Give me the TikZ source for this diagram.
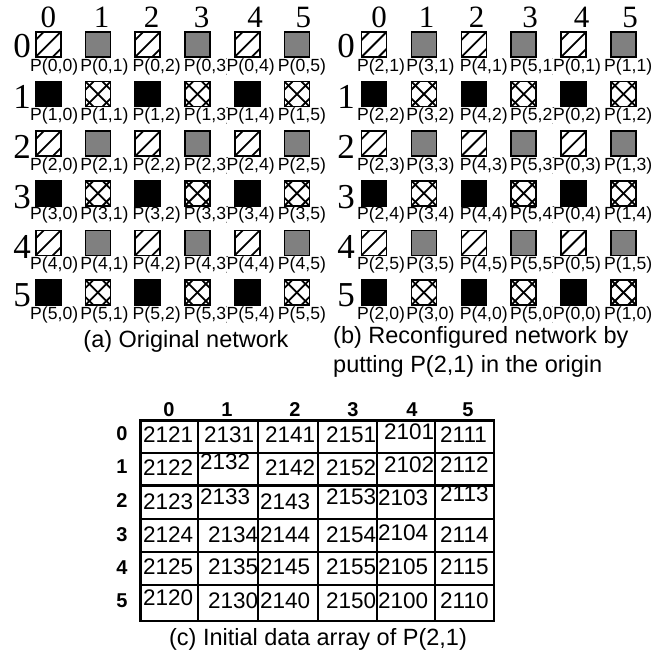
\documentclass[tikz,border=0pt]{standalone}
\usepackage{fontspec}
\setmainfont{Liberation Sans}
\newfontfamily\serifnum{Liberation Serif}
\usetikzlibrary{calc}
\definecolor{midgray}{gray}{0.5}
\newcommand\hatchA[1]{%
  \begin{scope}
    \clip (#1.south west) rectangle (#1.north east);
    \foreach \o in {-17,0,17}{\draw[hatchln] ($(#1.south west)+(\o,0)$) -- ($(#1.north east)+(\o,0)$);}
  \end{scope}}
\newcommand\hatchX[1]{%
  \begin{scope}
    \clip (#1.south west) rectangle (#1.north east);
    \foreach \o in {-17,0,17}{%
      \draw[hatchln] ($(#1.south west)+(\o,0)$) -- ($(#1.north east)+(\o,0)$);
      \draw[hatchln] ($(#1.north west)+(\o,0)$) -- ($(#1.south east)+(\o,0)$);}
  \end{scope}}
\begin{document}
\begin{tikzpicture}[x=1pt,y=-1pt,
  sq/.style={draw, line width=1.6pt, minimum size=25pt, inner sep=0pt, outer sep=0pt},
  graysq/.style={sq, fill=midgray},
  blacksq/.style={sq, fill=black},
  whitesq/.style={sq, fill=white},
  hatchln/.style={line width=1.8pt},
  plabel/.style={font=\fontsize{17.6}{18}\selectfont, fill=white, inner sep=0pt, outer sep=0pt},
  gridnum/.style={font=\serifnum\fontsize{31}{31}\selectfont, inner sep=0pt},
  rownum/.style={font=\serifnum\fontsize{35}{35}\selectfont, inner sep=0pt},
  capt/.style={font=\fontsize{23.5}{28}\selectfont, inner sep=0pt},
  cellnum/.style={font=\fontsize{22.5}{23}\selectfont, inner sep=0pt, anchor=west},
  tabhead/.style={font=\bfseries\fontsize{20}{20}\selectfont, inner sep=0pt},
  tabline/.style={line width=2.7pt, line cap=rect}
]
\useasboundingbox (0,0) rectangle (668,654);

% ---------- (a) original network ----------
\foreach \x [count=\k from 0] in {48.3,101.7,151.7,201.7,255,303.3}
  \node[gridnum] (ach\k) at (\x,17.5) {\k};
\foreach \y [count=\k from 0] in {46,97,147,196.7,247,295}
  \node[rownum] (arh\k) at (22,\y) {\k};
\foreach \i in {0,...,5}{
  \foreach \j in {0,...,5}{
    \pgfmathsetmacro\cx{48.2+49.75*\j}
    \pgfmathsetmacro\cy{44.5+49.6*\i}
    \pgfmathtruncatemacro\t{mod(\i,2)*2+mod(\j,2)}
    \pgfmathsetmacro\dx{{6,6.5,9,10.5,3.5,5}[\j]}
    \ifcase\t
      \node[whitesq] (a\i\j) at (\cx,\cy) {};
      \hatchA{a\i\j}
    \or
      \node[graysq] (a\i\j) at (\cx,\cy) {};
    \or
      \node[blacksq] (a\i\j) at (\cx,\cy) {};
    \or
      \node[whitesq] (a\i\j) at (\cx,\cy) {};
      \hatchX{a\i\j}
    \fi
    \node[plabel] (la\i\j) at (\cx+\dx,\cy+22) {P(\i,\j)};
  }
}
\node[capt] (capa) at (186,341.7) {(a) Original network};

% ---------- (b) reconfigured network ----------
\foreach \x [count=\k from 0] in {379,426.7,476.7,530,581.7,630}
  \node[gridnum] (bch\k) at (\x,17.5) {\k};
\foreach \y [count=\k from 0] in {46,97,147,196.7,247,295}
  \node[rownum] (brh\k) at (346,\y) {\k};
\foreach \i in {0,...,5}{
  \foreach \j in {0,...,5}{
    \pgfmathsetmacro\cx{374+49.9*\j}
    \pgfmathsetmacro\cy{44.5+49.6*\i}
    \pgfmathtruncatemacro\t{mod(\i,2)*2+mod(\j,2)}
    \pgfmathsetmacro\dx{{7,6.5,10,10.5,3.5,4.7}[\j]}
    \pgfmathtruncatemacro\pp{mod(\j+2,6)}
    \pgfmathtruncatemacro\qq{mod(\i+1,6)}
    \ifcase\t
      \node[whitesq] (b\i\j) at (\cx,\cy) {};
      \hatchA{b\i\j}
    \or
      \node[graysq] (b\i\j) at (\cx,\cy) {};
    \or
      \node[blacksq] (b\i\j) at (\cx,\cy) {};
    \or
      \node[whitesq] (b\i\j) at (\cx,\cy) {};
      \hatchX{b\i\j}
    \fi
    \node[plabel] (lb\i\j) at (\cx+\dx,\cy+22) {P(\pp,\qq)};
  }
}
\node[capt, anchor=west] (capb1) at (333,337.5) {(b) Reconfigured network by};
\node[capt, anchor=west] (capb2) at (333,366) {putting P(2,1) in the origin};

% ---------- (c) data array ----------
\foreach \x [count=\k from 0] in {169,227,295,353,412,468}
  \node[tabhead] (tch\k) at (\x,410) {\k};
\foreach \y [count=\k from 0] in {434,467,501,535,568,601}
  \node[tabhead] (trh\k) at (122,\y) {\k};

\node[cellnum] (c00) at (143,435) {2121};
\node[cellnum] (c01) at (204,435) {2131};
\node[cellnum] (c02) at (265,435) {2141};
\node[cellnum] (c03) at (326,435) {2151};
\node[cellnum] (c04) at (384,432) {2101};
\node[cellnum] (c05) at (440,435) {2111};

\node[cellnum] (c10) at (143,468) {2122};
\node[cellnum] (c11) at (200,462) {2132};
\node[cellnum] (c12) at (265,468) {2142};
\node[cellnum] (c13) at (326,468) {2152};
\node[cellnum] (c14) at (384,465) {2102};
\node[cellnum] (c15) at (440,465) {2112};

\node[cellnum] (c20) at (143,502) {2123};
\node[cellnum] (c21) at (200,497) {2133};
\node[cellnum] (c22) at (260,502) {2143};
\node[cellnum] (c23) at (326,497) {2153};
\node[cellnum] (c24) at (378,498) {2103};
\node[cellnum] (c25) at (440,494) {2113};

\node[cellnum] (c30) at (143,535) {2124};
\node[cellnum] (c31) at (208,535) {2134};
\node[cellnum] (c32) at (260,535) {2144};
\node[cellnum] (c33) at (326,535) {2154};
\node[cellnum] (c34) at (378,533) {2104};
\node[cellnum] (c35) at (440,535) {2114};

\node[cellnum] (c40) at (143,567) {2125};
\node[cellnum] (c41) at (208,567) {2135};
\node[cellnum] (c42) at (260,567) {2145};
\node[cellnum] (c43) at (326,567) {2155};
\node[cellnum] (c44) at (378,567) {2105};
\node[cellnum] (c45) at (440,567) {2115};

\node[cellnum] (c50) at (143,598) {2120};
\node[cellnum] (c51) at (208,601) {2130};
\node[cellnum] (c52) at (260,601) {2140};
\node[cellnum] (c53) at (326,601) {2150};
\node[cellnum] (c54) at (378,601) {2100};
\node[cellnum] (c55) at (440,601) {2110};

\foreach \x in {140.5,198,258,318,377,435,494}
  \draw[tabline] (\x,420.7) -- (\x,621);
\foreach \y in {420.7,453,485.5,519,552,585,621}
  \draw[tabline] (140.5,\y) -- (494,\y);

\node[capt] (capc) at (318,639.5) {(c) Initial data array of P(2,1)};
\end{tikzpicture}
\end{document}
